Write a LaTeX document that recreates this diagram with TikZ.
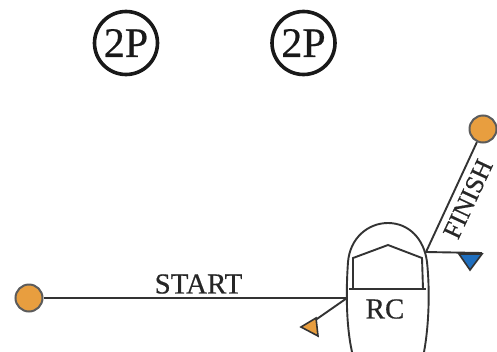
\documentclass[tikz,border=0pt]{standalone}
\usepackage{fontspec}
\setmainfont[FakeBold=0.6]{Liberation Serif}
\newfontfamily\labelfont[AutoFakeBold=0.5]{Liberation Serif}
\definecolor{buoy}{HTML}{E89E3F}
\definecolor{flagblue}{HTML}{1F6FBF}
\definecolor{ink}{HTML}{333333}
\tikzset{
  pen/.style={draw=ink,line width=1.9pt},
  thin pen/.style={draw=ink,line width=1.3pt},
  penalty/.style={circle,draw=black!90,line width=3.6pt,inner sep=0pt,minimum size=63pt,font=\fontsize{42}{42}\labelfont\bfseries,text=black!90},
  buoy mark/.style={circle,fill=buoy,draw=ink!80,line width=2pt,inner sep=0pt,minimum size=27pt},
  word/.style={inner sep=0pt,text=black!85}
}
\begin{document}
\begin{tikzpicture}[x=1pt,y=-1pt]
\useasboundingbox (0,0) rectangle (497,351);
\fill[white] (0,0) rectangle (497,351);
\node[penalty] (p1) at (126,43) {2P};
\node[penalty] (p2) at (303.5,43) {2P};
\node[buoy mark] (startbuoy) at (29,298) {};
\node[buoy mark] (finishbuoy) at (483,129) {};
\coordinate (portpost) at (347,298);
\coordinate (stbdpost) at (426,252);
\coordinate (portflag) at (314,321);
\coordinate (stbdflag) at (482,253);
% hull
\draw[pen] (352,352) .. controls (346,325) and (346,290) .. (348,262)
  .. controls (350,238) and (368,223) .. (388,223)
  .. controls (408,223) and (424,238) .. (427,262)
  .. controls (430,290) and (429,325) .. (424,352);
% cabin
\draw[pen] (353,289) -- (353,258) -- (388,245) -- (422,258) -- (423,289);
\draw[pen] (349,289) -- (426,289);
\node[word,font=\fontsize{29}{29}\labelfont\bfseries] (rc) at (385,309) {RC};
% lines
\draw[pen] (startbuoy) -- (portpost);
\draw[pen] (stbdpost) -- (finishbuoy);
\draw[pen] (portpost) -- (portflag);
\draw[pen] (stbdpost) -- (stbdflag);
\node[word,font=\fontsize{29}{29}\labelfont\bfseries] (start) at (198.5,284) {START};
\node[word,font=\fontsize{26}{26}\labelfont\bfseries,rotate=65] (finish) at (468,199) {FINISH};
\fill[buoy,draw=ink,line width=1.6pt] (301,327) -- (316,318) -- (318,336) -- cycle;
\fill[flagblue,draw=ink,line width=1.6pt] (459,254) -- (482,254) -- (470,270) -- cycle;
\end{tikzpicture}
\end{document}
